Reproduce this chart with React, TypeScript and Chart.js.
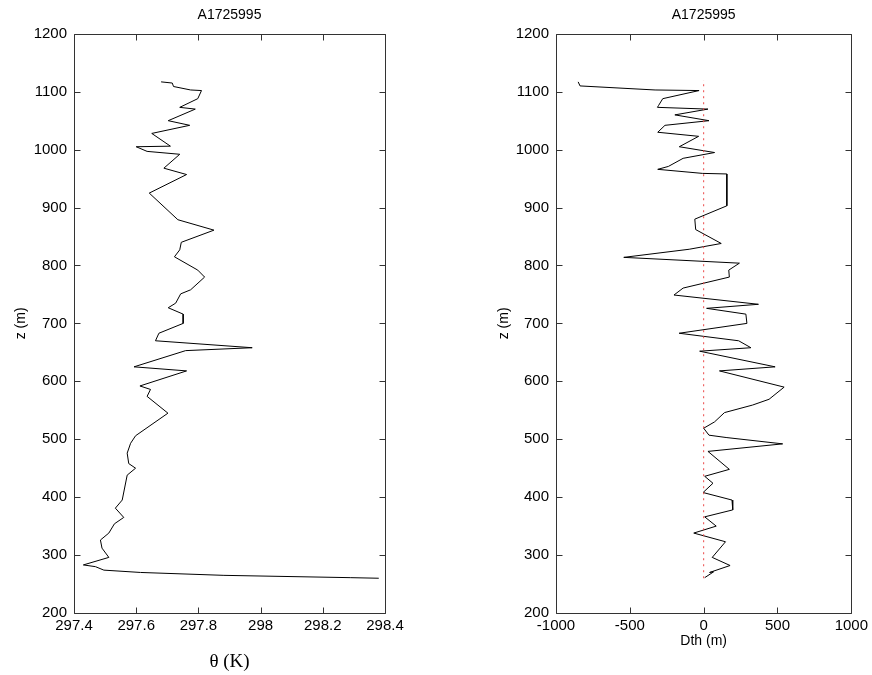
import React, { useEffect, useRef } from "react";
import { Chart, registerables } from "chart.js";

Chart.register(...registerables);

const chartTitle = "A1725995";
const zAxisLabel = "z (m)";
const thetaAxisLabel = "θ (K)";
const dthAxisLabel = "Dth (m)";

// Left profile: potential temperature vs height
const thetaZ = [
  1117, 1115, 1109, 1103, 1102, 1088, 1073, 1070, 1050, 1042, 1028, 1006, 1005, 997, 992, 968, 957, 925,
  879, 861, 840, 827, 815, 792, 780, 758, 751, 735, 727, 716, 700, 683, 670, 658, 653, 625, 618, 592,
  586, 574, 545, 506, 493, 476, 458, 450, 438, 395, 381, 365, 354, 338, 326, 312, 296, 283, 280, 274,
  270, 265, 261, 260,
];
const thetaValues = [
  297.68, 297.716, 297.72, 297.775, 297.81, 297.798, 297.74, 297.79, 297.703, 297.772, 297.65, 297.71,
  297.6, 297.635, 297.74, 297.689, 297.762, 297.642, 297.734, 297.85, 297.745, 297.74, 297.723, 297.798,
  297.82, 297.775, 297.743, 297.727, 297.703, 297.751, 297.751, 297.673, 297.662, 297.973, 297.759,
  297.593, 297.762, 297.612, 297.646, 297.635, 297.702, 297.598, 297.582, 297.571, 297.576, 297.598,
  297.571, 297.555, 297.533, 297.56, 297.53, 297.512, 297.485, 297.49, 297.512, 297.43, 297.469,
  297.496, 297.614, 297.882, 298.29, 298.38,
];

// Right profile: Dth vs height
const dthZ = [
  1117, 1110, 1103, 1102, 1088, 1076, 1073, 1070, 1060, 1050, 1042, 1030, 1023, 1005, 995, 985, 971, 966,
  959, 958, 903, 880, 862, 838, 828, 814, 804, 792, 780, 761, 749, 733, 726, 716, 700, 683, 670, 658,
  652, 625, 618, 590, 569, 559, 546, 530, 519, 507, 503, 492, 479, 448, 436, 424, 408, 395, 378, 366,
  350, 338, 323, 296, 282, 270, 271, 261,
];
const dthValues = [
  -850, -837, -329, -31, -277, -306, -313, 29, -195, 36, -262, -311, -34, -165, 74, -139, -239, -311,
  -9, 157, 157, -60, -54, 119, -98, -541, 242, 170, 174, -139, -201, 371, 20, 286, 293, -166, 237, 320,
  -27, 484, 107, 545, 443, 331, 141, 74, 0, 36, 152, 535, 29, 174, 7, 63, -4, 192, 197, 7,
  85, -67, 148, 58, 179, 40, 67, 7,
];

// Reference (zero) line on the right panel
const refLineX = [0, 0];
const refLineZ = [260, 1120];

const zMin = 200;
const zMax = 1200;
const zStep = 100;
const thetaMin = 297.4;
const thetaMax = 298.4;
const thetaStep = 0.2;
const dthMin = -1000;
const dthMax = 1000;
const dthStep = 500;

const SANS = "'Liberation Sans', Arial, sans-serif";
const SERIF = "'Liberation Serif', 'Times New Roman', serif";

const boxTicksPlugin = {
  id: "boxTicks",
  afterDraw(chart: any) {
    const { ctx, chartArea } = chart;
    const { left, right, top, bottom } = chartArea;
    const xs = chart.scales.x;
    const ys = chart.scales.y;
    const len = 6;
    ctx.save();
    ctx.strokeStyle = "#333";
    ctx.lineWidth = 1;
    ctx.beginPath();
    const L = Math.round(left) + 0.5;
    const R = Math.round(right) + 0.5;
    const T = Math.round(top) + 0.5;
    const B = Math.round(bottom) + 0.5;
    ctx.rect(L, T, R - L, B - T);
    xs.ticks.forEach((t: any) => {
      const p = Math.round(xs.getPixelForValue(t.value)) + 0.5;
      ctx.moveTo(p, B);
      ctx.lineTo(p, B - len);
      ctx.moveTo(p, T);
      ctx.lineTo(p, T + len);
    });
    ys.ticks.forEach((t: any) => {
      const p = Math.round(ys.getPixelForValue(t.value)) + 0.5;
      ctx.moveTo(L, p);
      ctx.lineTo(L + len, p);
      ctx.moveTo(R, p);
      ctx.lineTo(R - len, p);
    });
    ctx.stroke();
    ctx.restore();
  },
};

function fmt(v: any, decimals: number) {
  const f = Math.pow(10, decimals);
  return String(Math.round(Number(v) * f) / f);
}

function makeOptions(cfg: {
  xMin: number;
  xMax: number;
  xStep: number;
  xTitle: string;
  xTitleFont: any;
  xTitlePadBottom: number;
  yWidth: number;
  yTitlePadTop: number;
  rightPad: number;
  decimals: number;
}) {
  return {
    animation: false as const,
    responsive: false,
    maintainAspectRatio: false,
    events: [],
    layout: { padding: { left: 0, right: cfg.rightPad, top: 0, bottom: 0 } },
    plugins: {
      legend: { display: false },
      tooltip: { enabled: false },
      title: {
        display: true,
        text: chartTitle,
        fullSize: false,
        color: "#000",
        font: { family: SANS, size: 14, weight: "normal" as const },
        padding: { top: 7, bottom: 10 },
      },
    },
    scales: {
      x: {
        type: "linear" as const,
        min: cfg.xMin,
        max: cfg.xMax,
        grid: { display: false, drawTicks: false },
        border: { display: false },
        ticks: {
          stepSize: cfg.xStep,
          autoSkip: false,
          maxRotation: 0,
          padding: 4,
          color: "#000",
          font: { family: SANS, size: 15 },
          callback: (v: any) => fmt(v, cfg.decimals),
        },
        title: {
          display: true,
          text: cfg.xTitle,
          color: "#000",
          font: cfg.xTitleFont,
          padding: { top: 0, bottom: cfg.xTitlePadBottom },
        },
        afterFit: (s: any) => {
          s.height = 62;
        },
      },
      y: {
        type: "linear" as const,
        min: zMin,
        max: zMax,
        grid: { display: false, drawTicks: false },
        border: { display: false },
        ticks: {
          stepSize: zStep,
          autoSkip: false,
          padding: 7,
          color: "#000",
          font: { family: SANS, size: 15 },
          callback: (v: any) => fmt(v, 0),
        },
        title: {
          display: true,
          text: zAxisLabel,
          color: "#000",
          font: { family: SANS, size: 14 },
          padding: { top: cfg.yTitlePadTop, bottom: 0 },
        },
        afterFit: (s: any) => {
          s.width = cfg.yWidth;
        },
      },
    },
  };
}

export default function App() {
  const leftRef = useRef<HTMLCanvasElement>(null);
  const rightRef = useRef<HTMLCanvasElement>(null);

  useEffect(() => {
    const leftChart = new Chart(leftRef.current as HTMLCanvasElement, {
      type: "scatter",
      data: {
        datasets: [
          {
            data: thetaZ.map((z, i) => ({ x: thetaValues[i], y: z })),
            showLine: true,
            borderColor: "#000",
            borderWidth: 1,
            pointRadius: 0,
            fill: false,
            tension: 0,
          },
        ],
      },
      options: makeOptions({
        xMin: thetaMin,
        xMax: thetaMax,
        xStep: thetaStep,
        xTitle: thetaAxisLabel,
        xTitleFont: { family: SERIF, size: 19 },
        xTitlePadBottom: 2,
        yWidth: 74,
        yTitlePadTop: 13,
        rightPad: 51,
        decimals: 1,
      }) as any,
      plugins: [boxTicksPlugin],
    });

    const rightChart = new Chart(rightRef.current as HTMLCanvasElement, {
      type: "scatter",
      data: {
        datasets: [
          {
            data: refLineX.map((x, i) => ({ x, y: refLineZ[i] })),
            showLine: true,
            borderColor: "rgb(235,70,70)",
            borderWidth: 1,
            borderDash: [2, 4],
            pointRadius: 0,
            fill: false,
          },
          {
            data: dthZ.map((z, i) => ({ x: dthValues[i], y: z })),
            showLine: true,
            borderColor: "#000",
            borderWidth: 1,
            pointRadius: 0,
            fill: false,
            tension: 0,
          },
        ],
      },
      options: makeOptions({
        xMin: dthMin,
        xMax: dthMax,
        xStep: dthStep,
        xTitle: dthAxisLabel,
        xTitleFont: { family: SANS, size: 14 },
        xTitlePadBottom: 25,
        yWidth: 120,
        yTitlePadTop: 60,
        rightPad: 20,
        decimals: 0,
      }) as any,
      plugins: [boxTicksPlugin],
    });

    return () => {
      leftChart.destroy();
      rightChart.destroy();
    };
  }, []);

  return (
    <div style={{ position: "absolute", left: 0, top: 0, width: 872, height: 675, background: "#fff", overflow: "hidden" }}>
      <canvas
        ref={leftRef}
        width={436}
        height={675}
        style={{ position: "absolute", left: 0, top: 0, width: 436, height: 675 }}
      />
      <canvas
        ref={rightRef}
        width={436}
        height={675}
        style={{ position: "absolute", left: 436, top: 0, width: 436, height: 675 }}
      />
    </div>
  );
}
